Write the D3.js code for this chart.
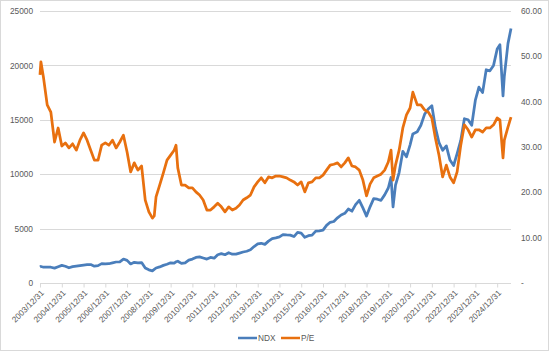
<!DOCTYPE html>
<html>
<head>
<meta charset="utf-8">
<script src="https://cdn.jsdelivr.net/npm/d3@7"></script>
<style>
  html, body { margin: 0; padding: 0; background: #fff; }
  text { font-family: "Liberation Sans", Arial, sans-serif; }
</style>
</head>
<body>
<div id="vizcontainer"></div>
<script>
const
  width = 550,
  height = 352
  ;

const dates = [
  "2003-12-31", "2004-01-15", "2004-02-29", "2004-04-30", "2004-06-30", "2004-08-31", "2004-10-31", "2004-12-31",
  "2005-02-28", "2005-04-30", "2005-06-30", "2005-08-31", "2005-10-31", "2005-12-31",
  "2006-02-28", "2006-04-30", "2006-06-30", "2006-08-31", "2006-10-31", "2006-12-31",
  "2007-02-28", "2007-04-30", "2007-06-30", "2007-08-31", "2007-10-31", "2007-12-31",
  "2008-02-29", "2008-04-30", "2008-06-30", "2008-08-31", "2008-10-31", "2008-12-31",
  "2009-02-28", "2009-03-31", "2009-04-30", "2009-06-30", "2009-08-31", "2009-10-31", "2009-12-31",
  "2010-02-28", "2010-03-31", "2010-04-30", "2010-06-30", "2010-08-31", "2010-10-31", "2010-12-31",
  "2011-02-28", "2011-04-30", "2011-06-30", "2011-08-31", "2011-10-31", "2011-12-31",
  "2012-02-29", "2012-04-30", "2012-06-30", "2012-08-31", "2012-10-31", "2012-12-31",
  "2013-02-28", "2013-04-30", "2013-06-30", "2013-08-31", "2013-10-31", "2013-12-31",
  "2014-02-28", "2014-04-30", "2014-06-30", "2014-08-31", "2014-10-31", "2014-12-31",
  "2015-02-28", "2015-04-30", "2015-06-30", "2015-08-31", "2015-10-31", "2015-12-31",
  "2016-02-29", "2016-04-30", "2016-06-30", "2016-08-31", "2016-10-31", "2016-12-31",
  "2017-02-28", "2017-04-30", "2017-06-30", "2017-08-31", "2017-10-31", "2017-12-31",
  "2018-02-28", "2018-04-30", "2018-06-30", "2018-08-31", "2018-10-31", "2018-12-31",
  "2019-02-28", "2019-04-30", "2019-06-30", "2019-08-31", "2019-10-31", "2019-12-31",
  "2020-02-15", "2020-03-20", "2020-04-30", "2020-06-30", "2020-08-31", "2020-10-31", "2020-12-31",
  "2021-02-15", "2021-04-30", "2021-06-30", "2021-08-31", "2021-10-31", "2021-12-31",
  "2022-02-28", "2022-04-30", "2022-06-30", "2022-08-31", "2022-10-31", "2022-12-31",
  "2023-02-28", "2023-04-30", "2023-06-30", "2023-08-31", "2023-10-31", "2023-12-31",
  "2024-02-29", "2024-04-30", "2024-06-30", "2024-08-31", "2024-10-31", "2024-12-31",
  "2025-02-15", "2025-04-08", "2025-04-30", "2025-06-30", "2025-08-20"
];

const ndx = [
  1470, 1520, 1450, 1470, 1450, 1370, 1500, 1620,
  1540, 1400, 1500, 1550, 1600, 1650,
  1680, 1700, 1550, 1600, 1780, 1760,
  1770, 1850, 1930, 1950, 2200, 2080,
  1750, 1900, 1850, 1880, 1380, 1210,
  1120, 1250, 1380, 1480, 1620, 1720, 1860,
  1820, 1950, 2000, 1800, 1850, 2100, 2200,
  2350, 2400, 2300, 2200, 2350, 2280,
  2600, 2700, 2600, 2780, 2650, 2660,
  2750, 2850, 2920, 3050, 3350, 3590,
  3650, 3550, 3850, 4080, 4150, 4240,
  4450, 4420, 4400, 4270, 4650, 4590,
  4200, 4350, 4400, 4770, 4800, 4860,
  5300, 5580, 5650, 5990, 6250, 6400,
  6800, 6600, 7200, 7600, 6900, 6150,
  7000, 7750, 7700, 7600, 8100, 8730,
  9700, 7000, 9000, 10150, 12100, 11600, 12700,
  13700, 13900, 14500, 15500, 16000, 16300,
  14300, 12900, 12200, 12600, 11300, 10800,
  11900, 13100, 15100, 15000, 14500, 16800,
  18000, 17500, 19600, 19500, 20000, 21500,
  21900, 17200, 19000, 22000, 23400
];

const pe = [
  45.9, 48.8, 45.2, 39.3, 37.7, 31.1, 34.2, 30.2,
  30.9, 29.8, 30.7, 29.3, 31.5, 33.1,
  31.5, 29.3, 27.1, 27.1, 30.4, 30.9,
  30.4, 31.5, 29.8, 31.1, 32.6, 28.9,
  24.5, 26.5, 24.9, 25.8, 18.3, 15.7,
  14.3, 14.8, 19.0, 21.6, 24.3, 27.1, 28.2,
  29.3, 30.4, 25.4, 21.6, 21.6, 21.0, 21.0,
  20.1, 19.4, 18.3, 16.1, 16.1, 16.8,
  17.6, 16.8, 15.7, 16.8, 16.1, 16.5,
  17.2, 18.3, 18.8, 19.4, 21.2, 22.3,
  23.2, 22.1, 23.4, 23.2, 23.6, 23.6,
  23.4, 23.2, 22.7, 22.3, 21.6, 22.3,
  20.1, 22.1, 22.3, 23.2, 23.2, 23.8,
  24.9, 26.0, 26.2, 26.5, 25.6, 26.5,
  27.6, 25.8, 25.6, 24.9, 22.7, 19.2,
  21.8, 23.2, 23.6, 24.0, 24.9, 26.7,
  29.3, 22.7, 26.0, 29.3, 34.2, 37.1, 38.6,
  42.1, 39.3, 39.3, 38.2, 37.7, 36.4,
  32.0, 28.2, 23.4, 26.0, 23.4, 22.1,
  24.5, 30.4, 34.9, 33.8, 32.2, 33.8,
  33.8, 33.3, 34.2, 34.2, 34.9, 36.4,
  36.0, 27.6, 31.5, 34.4, 36.6
];

const tickDates = [
  "2003-12-31", "2004-12-31", "2005-12-31", "2006-12-31", "2007-12-31", "2008-12-31",
  "2009-12-31", "2010-12-31", "2011-12-31", "2012-12-31", "2013-12-31", "2014-12-31",
  "2015-12-31", "2016-12-31", "2017-12-31", "2018-12-31", "2019-12-31", "2020-12-31",
  "2021-12-31", "2022-12-31", "2023-12-31", "2024-12-31"
];
const tickLabels = [
  "2003/12/31", "2004/12/31", "2005/12/31", "2006/12/31", "2007/12/31", "2008/12/31",
  "2009/12/31", "2010/12/31", "2011/12/31", "2012/12/31", "2013/12/31", "2014/12/31",
  "2015/12/31", "2016/12/31", "2017/12/31", "2018/12/31", "2019/12/31", "2020/12/31",
  "2021/12/31", "2022/12/31", "2023/12/31", "2024/12/31"
];
const leftTicks = [0, 5000, 10000, 15000, 20000, 25000];
const rightTicks = [0, 10, 20, 30, 40, 50, 60];
const seriesNames = ["NDX", "P/E"];
const seriesColors = ["#4a7ebb", "#e8700f"];

const parse = d3.timeParse("%Y-%m-%d");
const rows = dates.map((d, i) => ({ date: parse(d), ndx: ndx[i], pe: pe[i] }));

const plot = { left: 40, right: 511, top: 11, bottom: 283 };

let xScale = d3.scaleTime()
  .domain([parse("2003-12-31"), parse("2025-08-20")])
  .range([plot.left, plot.right]);

let yLeft = d3.scaleLinear()
  .domain([0, 25000])
  .range([plot.bottom, plot.top]);

let yRight = d3.scaleLinear()
  .domain([0, 60])
  .range([plot.bottom, plot.top]);

let viz = d3.select('#vizcontainer')
  .append('svg')
  .attr('width', width)
  .attr('height', height);

// chart border
viz.append('rect')
  .attr('x', 0.5).attr('y', 0.5)
  .attr('width', width - 2).attr('height', height - 2)
  .attr('fill', '#fff')
  .attr('stroke', '#d9d9d9');

// gridlines
viz.append('g')
  .selectAll('line')
  .data(leftTicks.slice(1))
  .join('line')
  .attr('x1', plot.left).attr('x2', plot.right)
  .attr('y1', d => Math.round(yLeft(d)) + 0.5)
  .attr('y2', d => Math.round(yLeft(d)) + 0.5)
  .attr('stroke', '#d9d9d9')
  .attr('stroke-width', 1);

// left axis
let leftAxis = viz.append('g')
  .attr('transform', `translate(${plot.left},0)`)
  .call(d3.axisLeft(yLeft).tickValues(leftTicks).tickSize(0).tickPadding(7).tickFormat(d3.format('d')));
leftAxis.select('.domain').remove();

// right axis
let rightAxis = viz.append('g')
  .attr('transform', `translate(${plot.right},0)`)
  .call(d3.axisRight(yRight).tickValues(rightTicks).tickSize(0).tickPadding(10)
    .tickFormat(d => d === 0 ? '-' : d.toFixed(2)));
rightAxis.select('.domain').remove();

viz.selectAll('.tick text')
  .attr('fill', '#595959')
  .style('font-size', '8.3px');

// x axis line and ticks
let xAxis = viz.append('g')
  .attr('transform', `translate(0,${plot.bottom + 0.5})`)
  .call(d3.axisBottom(xScale)
    .tickValues(tickDates.map(parse))
    .tickSize(4)
    .tickFormat((d, i) => tickLabels[i]));
xAxis.select('.domain')
  .attr('d', `M${plot.left},0H${plot.right}`)
  .attr('stroke', '#d9d9d9');
xAxis.selectAll('.tick line').attr('stroke', '#d9d9d9');
xAxis.selectAll('.tick text')
  .attr('fill', '#595959')
  .style('font-size', '8.3px')
  .attr('text-anchor', 'end')
  .attr('y', 0)
  .attr('dy', '0.35em')
  .attr('transform', 'translate(2,8) rotate(-45)');

// series
let ndxLine = d3.line()
  .x(d => xScale(d.date))
  .y(d => yLeft(d.ndx));

let peLine = d3.line()
  .x(d => xScale(d.date))
  .y(d => yRight(d.pe));

viz.append('path')
  .datum(rows)
  .attr('d', ndxLine)
  .attr('fill', 'none')
  .attr('stroke', seriesColors[0])
  .attr('stroke-width', 2.75)
  .attr('stroke-linejoin', 'round');

viz.append('path')
  .datum(rows)
  .attr('d', peLine)
  .attr('fill', 'none')
  .attr('stroke', seriesColors[1])
  .attr('stroke-width', 2.75)
  .attr('stroke-linejoin', 'round');

// legend
let legend = viz.append('g')
  .selectAll('g')
  .data(seriesNames)
  .join('g')
  .attr('transform', (d, i) => `translate(${238 + i * 43},338)`);
legend.append('line')
  .attr('x1', 0).attr('x2', 19)
  .attr('stroke', (d, i) => seriesColors[i])
  .attr('stroke-width', 2.5);
legend.append('text')
  .attr('x', 20)
  .attr('dy', '0.35em')
  .attr('fill', '#595959')
  .style('font-size', '8.3px')
  .text(d => d);
</script>
</body>
</html>
